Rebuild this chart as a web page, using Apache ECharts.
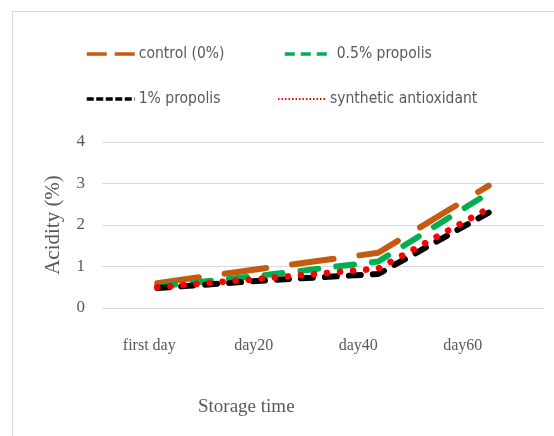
<!DOCTYPE html>
<html>
<head>
<meta charset="utf-8">
<script src="https://cdn.jsdelivr.net/npm/echarts@6/dist/echarts.min.js"></script>
<style>
html,body{margin:0;padding:0;background:#fff;}
#c{width:554px;height:436px;}
</style>
</head>
<body>
<div id="c"></div>
<script>
const categories = ['first day', 'day20', 'day40', 'day60'];
const seriesNames = ['control (0%)', '0.5% propolis', '1% propolis', 'synthetic antioxidant'];
const control = [0.6, 0.97, 1.33, 2.95];
const propolis05 = [0.52, 0.8, 1.12, 2.77];
const propolis1 = [0.48, 0.67, 0.82, 2.3];
const synthetic = [0.5, 0.72, 0.95, 2.4];
const yTicks = [0, 1, 2, 3, 4];
const xTitle = 'Storage time';
const yTitle = 'Acidity (%)';

const textGrey = '#595959';
const chart = echarts.init(document.getElementById('c'));

const styles = [
  {color: '#c55a11', width: 6, type: [42, 26], cap: 'round', legendType: [20, 8], legendWidth: 3.5},
  {color: '#00b050', width: 6, type: [18, 18], cap: 'round', legendType: [10, 6], legendWidth: 3.5},
  {color: '#000000', width: 6, type: [12, 12], cap: 'round', legendType: [7, 2.5], legendWidth: 3.5},
  {color: '#ff0000', width: 6.5, type: [0.1, 13], cap: 'round', legendType: [1.5, 2], legendWidth: 2}
];
const values = [control, propolis05, propolis1, synthetic];

const legendPos = [
  {left: 80, top: 41},
  {left: 278, top: 41},
  {left: 80, top: 86},
  {left: 272, top: 86}
];

const legends = seriesNames.map((n, i) => ({
  data: [n],
  left: legendPos[i].left,
  top: legendPos[i].top,
  itemWidth: 48,
  itemHeight: 14,
  itemGap: 0,
  selectedMode: false,
  itemStyle: {opacity: 0},
  lineStyle: {width: styles[i].legendWidth, type: styles[i].legendType, cap: 'butt', opacity: 1},
  textStyle: {fontFamily: 'Liberation Sans Narrow, DejaVu Sans Condensed, sans-serif', fontSize: 15.5, color: textGrey, padding: [0, 0, 0, -1]}
}));

chart.setOption({
  backgroundColor: '#ffffff',
  animation: false,
  graphic: [
    {
      type: 'rect',
      shape: {x: 12.5, y: 11.5, width: 560, height: 440},
      style: {fill: 'none', stroke: '#d9d9d9', lineWidth: 1}
    },
    {
      type: 'text', left: 198, top: 398,
      style: {text: xTitle, font: '19px "Liberation Serif", serif', fill: textGrey}
    }
  ],
  legend: legends,
  grid: [
    {left: 102, right: 10, top: 142, bottom: 128, containLabel: false},
    {left: 97, right: 39, top: 142, bottom: 128, containLabel: false}
  ],
  xAxis: [
    {
      type: 'category', gridIndex: 0, data: categories, boundaryGap: true,
      axisLine: {show: false}, axisTick: {show: false}, axisLabel: {show: false}
    },
    {
      type: 'category', gridIndex: 1, data: categories, boundaryGap: true,
      axisLine: {show: false}, axisTick: {show: false},
      axisLabel: {show: true, margin: 30, fontFamily: 'Liberation Serif, serif', fontSize: 16, color: textGrey}
    }
  ],
  yAxis: [
    {
      type: 'value', gridIndex: 0, min: yTicks[0], max: yTicks[yTicks.length - 1], interval: 1,
      axisLine: {show: false}, axisTick: {show: false},
      splitLine: {lineStyle: {color: '#d9d9d9', width: 1}},
      axisLabel: {margin: 17, fontFamily: 'Liberation Serif, serif', fontSize: 17, color: textGrey},
      name: yTitle, nameLocation: 'middle', nameGap: 38,
      nameTextStyle: {fontFamily: 'Liberation Serif, serif', fontSize: 21, color: textGrey}
    },
    {
      type: 'value', gridIndex: 1, min: 0, max: 4, show: false
    }
  ],
  series: seriesNames.map((n, i) => ({
    name: n,
    type: 'line',
    xAxisIndex: 0, yAxisIndex: 0,
    data: values[i],
    symbol: 'none',
    showSymbol: false,
    color: styles[i].color,
    lineStyle: {color: styles[i].color, width: styles[i].width, type: styles[i].type, cap: styles[i].cap},
    z: 2 + i
  }))
});
</script>
</body>
</html>
